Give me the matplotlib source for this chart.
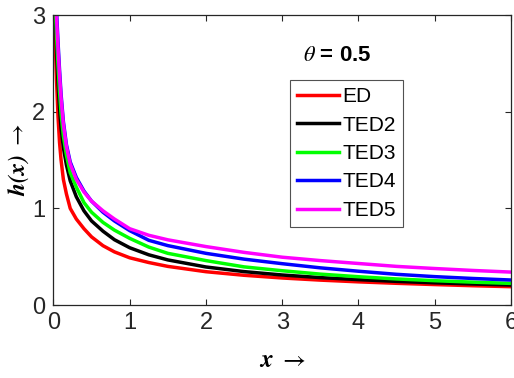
import matplotlib
matplotlib.use("Agg")
import matplotlib.pyplot as plt

plt.rcParams['mathtext.fontset'] = 'stix'
FONT = ['Liberation Sans Narrow', 'Liberation Sans', 'DejaVu Sans']

x = [0.01, 0.02, 0.03, 0.04, 0.06, 0.08, 0.1, 0.13, 0.17, 0.22, 0.3, 0.4, 0.5,
     0.65, 0.8, 1.0, 1.25, 1.5, 2.0, 2.5, 3.0, 3.5, 4.0, 4.5, 5.0, 5.5, 6.0]

ed = [3.6, 2.85, 2.58, 2.33, 1.95, 1.68, 1.50, 1.30, 1.15, 1.0, 0.89, 0.79, 0.705,
      0.614, 0.550, 0.489, 0.44, 0.40, 0.345, 0.308, 0.28, 0.258, 0.24, 0.225, 0.212, 0.2, 0.19]
ted2 = [3.6, 3.15, 2.88, 2.65, 2.30, 2.03, 1.83, 1.63, 1.45, 1.285, 1.12, 0.975, 0.87,
        0.764, 0.676, 0.593, 0.52, 0.467, 0.394, 0.346, 0.311, 0.284, 0.263, 0.245, 0.230, 0.218, 0.207]
ted3 = [3.8, 3.3, 3.0, 2.8, 2.48, 2.2, 1.98, 1.75, 1.55, 1.37, 1.22, 1.06, 0.96,
        0.855, 0.775, 0.69, 0.60, 0.535, 0.46, 0.395, 0.355, 0.32, 0.293, 0.27, 0.252, 0.237, 0.224]
ted4 = [4.3, 3.6, 3.3, 3.05, 2.72, 2.43, 2.18, 1.90, 1.66, 1.48, 1.32, 1.18, 1.075,
        0.96, 0.87, 0.77, 0.67, 0.615, 0.535, 0.475, 0.428, 0.385, 0.35, 0.318, 0.294, 0.275, 0.259]
ted5 = [4.2, 3.5, 3.2, 2.98, 2.66, 2.38, 2.14, 1.87, 1.64, 1.46, 1.30, 1.17, 1.075,
        0.975, 0.89, 0.79, 0.722, 0.675, 0.605, 0.545, 0.495, 0.46, 0.43, 0.40, 0.378, 0.358, 0.341]

labels = ['ED', 'TED2', 'TED3', 'TED4', 'TED5']
colors = ['#ff0000', '#000000', '#00ff00', '#0000ff', '#ff00ff']
series = [ed, ted2, ted3, ted4, ted5]

xticks = [0, 1, 2, 3, 4, 5, 6]
yticks = [0, 1, 2, 3]

fig = plt.figure(figsize=(5.14, 3.78), dpi=100)
ax = fig.add_axes([0.104, 0.193, 0.890, 0.767])

for ys, c, lab in zip(series, colors, labels):
    ax.plot(x, ys, color=c, lw=2.5, label=lab, solid_joinstyle='round')

ax.set_xlim(0, 6)
ax.set_ylim(0, 3)
ax.set_xticks(xticks)
ax.set_yticks(yticks)
ax.set_xticklabels([str(t) for t in xticks], family=FONT, fontsize=17, color='#262626')
ax.set_yticklabels([str(t) for t in yticks], family=FONT, fontsize=17, color='#262626')
ax.tick_params(direction='in', length=4, width=0.8, top=True, right=True, color='#262626')
ax.tick_params(axis='x', pad=5)
ax.tick_params(axis='y', pad=6)
for s in ax.spines.values():
    s.set_color('#262626')
    s.set_linewidth(0.9)

ax.set_xlabel(r'$\mathbfit{x}\ \rightarrow$', fontsize=18, labelpad=10)
ax.set_ylabel(r'$\mathbfit{h(x)}\ \rightarrow$', fontsize=17, labelpad=1)

ax.text(0.62, 0.862, r'$\theta$' + ' = 0.5', transform=ax.transAxes, ha='center', va='center',
        fontsize=16, fontweight='bold', family=FONT)

leg = ax.legend(loc='upper left', bbox_to_anchor=(0.517, 0.776), prop={'family': FONT, 'size': 15},
                frameon=True, fancybox=False, edgecolor='#262626', handlelength=2.0,
                handletextpad=0.15, labelspacing=0.45, borderpad=0.35, borderaxespad=0)
leg.get_frame().set_linewidth(0.8)

fig.savefig('out.png', dpi=100)
